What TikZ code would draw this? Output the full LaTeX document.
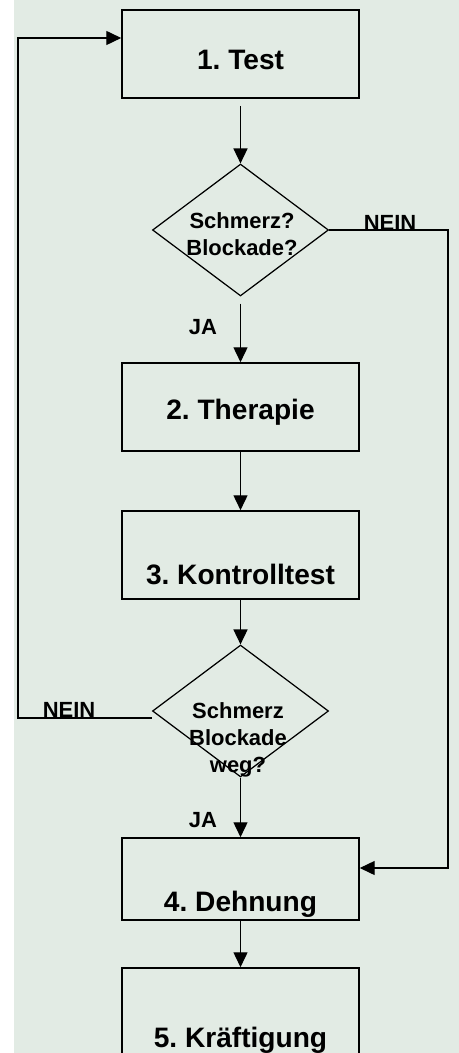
\documentclass[tikz,border=0pt]{standalone}
\usepackage{fontspec}
\setmainfont{Liberation Sans}
\usetikzlibrary{arrows.meta,positioning,calc,shapes.geometric}
\definecolor{paper}{RGB}{226,235,228}
\frenchspacing

\begin{document}
\begin{tikzpicture}[x=0.02cm, y=-0.02cm, line width=0.7pt,
  bx/.style={draw, line width=0.9pt, minimum width=134.9pt, minimum height=50.1pt,
    inner sep=0pt, text depth=0pt, text height=#1, font=\fontsize{16}{19}\selectfont\bfseries},
  dia/.style={draw, diamond, minimum width=100.2pt, minimum height=75.1pt, inner sep=0pt},
  qt/.style={align=center, inner sep=0pt, font=\fontsize{12.5}{15.4}\selectfont\bfseries},
  lbl/.style={anchor=base, inner sep=0pt, font=\fontsize{12.5}{15}\selectfont\bfseries},
  arr/.style={-{Triangle[length=8.5pt,width=8pt]}}]
\useasboundingbox (0,0) rectangle (459,1053);
\clip (0,0) rectangle (459,1053);
\fill[paper] (14,0) rectangle (459,1053);
% steps and questions
\node[bx=18.2pt] (b1) at (240.5,54) {1. Test};
\node[dia] (d1) at (240.5,230) {};
\node[qt] (q1) at (242,234.5) {Schmerz?\\Blockade?};
\node[bx=14pt] (b2) at (240.5,407) {2. Therapie};
\node[bx=34.1pt] (b3) at (240.5,555) {3. Kontrolltest};
\node[dia] (d2) at (240.5,711) {};
\node[qt] (q2) at (238,740) {Schmerz\\Blockade\\weg?};
\node[bx=37.2pt, minimum height=46.7pt] (b4) at (240.5,879) {4. Dehnung};
\node[bx=39.9pt] (b5) at (240.5,1012) {5. Kräftigung};
% answers
\node[lbl] (n1) at (390,230.5) {NEIN};
\node[lbl] (n2) at (69,717) {NEIN};
\node[lbl] (j1) at (203,335) {JA};
\node[lbl] (j2) at (203,827) {JA};
% connectors
\coordinate (rt) at (448,868);
\coordinate (lf) at (18,38);
\coordinate (lo) at ($(d2.west)+(0,7)$);
\foreach \a/\b/\s in {b1/d1/4pt, d1/b2/4pt, b2/b3/0pt, b3/d2/0pt, d2/b4/0pt, b4/b5/0pt}{
  \draw[arr, shorten <=\s] (\a) -- (\b);}
\draw[arr] (d1.east) -| (rt) -- (rt -| b4.east);
\draw[arr] (lo) -| (lf) -- (lf -| b1.west);
\end{tikzpicture}
\end{document}
